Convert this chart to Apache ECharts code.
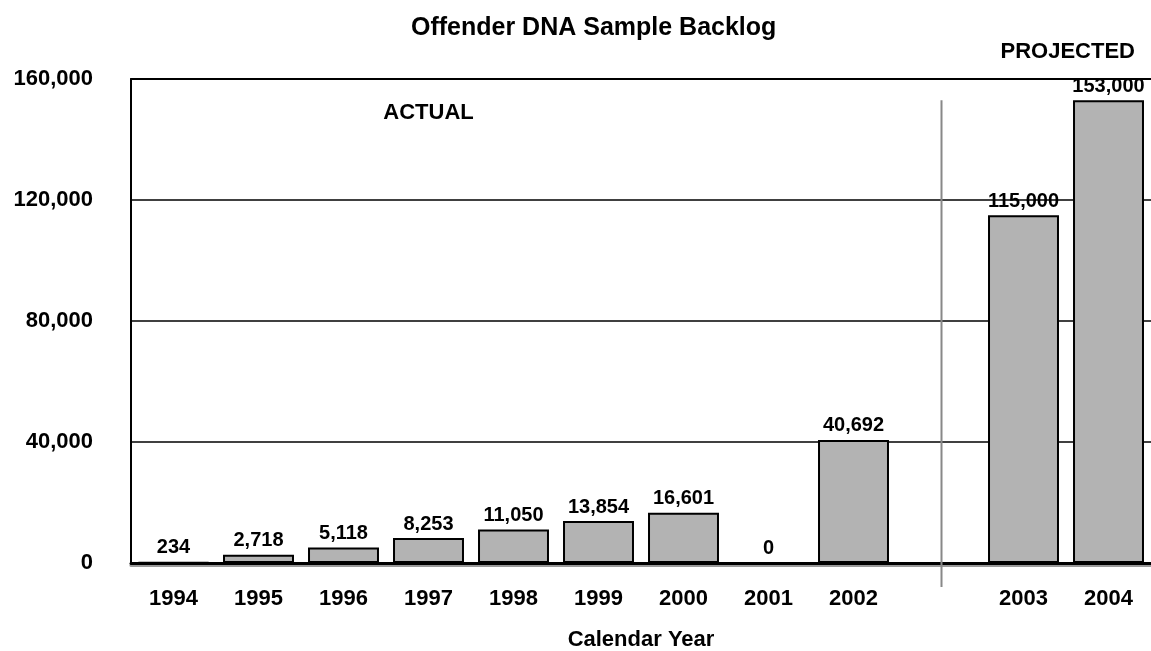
<!DOCTYPE html>
<html>
<head>
<meta charset="utf-8">
<script src="https://cdn.jsdelivr.net/npm/echarts@6/dist/echarts.min.js"></script>
<style>
html,body{margin:0;padding:0;background:#fff;}
#chart{width:1151px;height:651px;}
</style>
</head>
<body>
<div id="chart"></div>
<script>
const categories = ['1994','1995','1996','1997','1998','1999','2000','2001','2002',' ','2003','2004'];
const backlog = [234, 2718, 5118, 8253, 11050, 13854, 16601, 0, 40692, null, 115000, 153000];
const yTicks = [0, 40000, 80000, 120000, 160000];
const titleText = 'Offender DNA Sample Backlog';
const xAxisName = 'Calendar Year';
const actualText = 'ACTUAL';
const projectedText = 'PROJECTED';
const dividerCategory = ' ';

const FONT = '"Liberation Sans", Arial, sans-serif';
const fmt = v => Number(v).toLocaleString('en-US');

const chart = echarts.init(document.getElementById('chart'), null, {renderer: 'canvas'});

const option = {
  animation: false,
  backgroundColor: '#fff',
  title: {
    text: titleText,
    left: 406,
    top: 11,
    textStyle: {fontFamily: FONT, fontWeight: 'bold', fontSize: 25, color: '#000'}
  },
  grid: {left: 131, right: 0, top: 79, bottom: 88, containLabel: false, outerBoundsMode: 'none'},
  xAxis: [{
    type: 'category',
    data: categories,
    position: 'bottom',
    axisLine: {show: true, onZero: false, lineStyle: {color: '#000', width: 3, shadowColor: '#999', shadowOffsetY: 2, shadowBlur: 0}},
    axisTick: {show: false},
    axisLabel: {fontFamily: FONT, fontWeight: 'bold', fontSize: 22, color: '#000', margin: 25, interval: 0},
    name: xAxisName,
    nameLocation: 'middle',
    nameGap: 66,
    nameTextStyle: {fontFamily: FONT, fontWeight: 'bold', fontSize: 22, color: '#000'}
  }, {
    type: 'category',
    data: categories,
    position: 'top',
    axisLine: {show: true, onZero: false, lineStyle: {color: '#000', width: 2}},
    axisTick: {show: false},
    axisLabel: {show: false}
  }],
  yAxis: {
    type: 'value',
    min: yTicks[0],
    max: yTicks[yTicks.length - 1],
    interval: yTicks[1] - yTicks[0],
    axisLine: {show: true, lineStyle: {color: '#000', width: 2}},
    axisTick: {show: false},
    splitLine: {show: true, lineStyle: {color: '#000', width: 1.5}},
    axisLabel: {fontFamily: FONT, fontWeight: 'bold', fontSize: 22, color: '#000', margin: 38, formatter: fmt}
  },
  series: [{
    type: 'bar',
    data: backlog,
    barCategoryGap: '16.5%',
    itemStyle: {color: '#b3b3b3', borderColor: '#000', borderWidth: 2},
    label: {
      show: true,
      position: 'top',
      distance: 4,
      fontFamily: FONT, fontWeight: 'bold', fontSize: 20, color: '#000',
      formatter: p => (p.value === null || p.value === undefined) ? '' : fmt(p.value)
    }
  }]
};
chart.setOption(option);

function addGraphics() {
  const rect = chart.getModel().getComponent('grid').coordinateSystem.getRect();
  const dx = chart.convertToPixel({xAxisIndex: 0}, dividerCategory) + 3;
  const yTop = chart.convertToPixel({yAxisIndex: 0}, backlog[backlog.length - 1]);
  const yBottom = rect.y + rect.height + 24;
  const band = rect.width / categories.length;
  const actualX = rect.x + band * 3.5;
  chart.setOption({
    graphic: [
      {type: 'line', shape: {x1: dx, y1: yTop, x2: dx, y2: yBottom}, style: {stroke: '#888', lineWidth: 2}, z: 10},
      {type: 'text', x: actualX, y: rect.y + 34, style: {text: actualText, fontFamily: FONT, fontWeight: 'bold', fontSize: 22, fill: '#000', textAlign: 'center', textVerticalAlign: 'middle'}},
      {type: 'text', x: rect.x + rect.width - 16, y: rect.y - 27, style: {text: projectedText, fontFamily: FONT, fontWeight: 'bold', fontSize: 22, fill: '#000', textAlign: 'right', textVerticalAlign: 'middle'}}
    ]
  });
}
addGraphics();
</script>
</body>
</html>
